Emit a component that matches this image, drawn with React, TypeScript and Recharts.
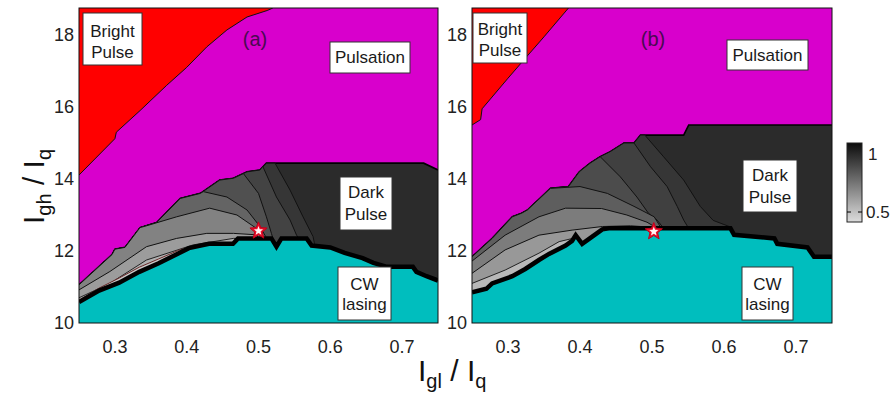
import React from 'react';
import { ComposedChart, Area, Scatter, XAxis, YAxis } from 'recharts';

type P = [number, number];

const X_DOMAIN: [number, number] = [0.25, 0.75];
const Y_DOMAIN: [number, number] = [10, 18.75];
const X_TICKS = [0.3, 0.4, 0.5, 0.6, 0.7];
const Y_TICKS = [10, 12, 14, 16, 18];
const Y_MIN = 10;
const Y_MAX = 18.75;

// ---------- panel (a) ----------
const redA: P[] = [
  [0.25, 14.11], [0.3, 15.12], [0.302, 15.3], [0.335, 15.9], [0.372, 16.6], [0.4, 17.1],
  [0.428, 17.67], [0.456, 18.14], [0.484, 18.5], [0.512, 18.68], [0.52, 18.75],
];
const topA: P[] = [
  [0.25, 11.06], [0.296, 11.9], [0.3, 12.05], [0.314, 12.1], [0.335, 12.65], [0.358, 12.79],
  [0.391, 13.46], [0.419, 13.6], [0.446, 13.97], [0.465, 14.02], [0.484, 14.2], [0.502, 14.25],
  [0.511, 14.44], [0.73, 14.44], [0.75, 14.25],
];
const cwA: P[] = [
  [0.25, 10.58], [0.278, 10.9], [0.306, 11.12], [0.334, 11.42], [0.361, 11.66], [0.389, 11.94],
  [0.403, 12.08], [0.431, 12.2], [0.4645, 12.2], [0.4715, 12.35], [0.518, 12.35], [0.525, 12.12],
  [0.532, 12.35], [0.567, 12.35], [0.574, 12.15], [0.6, 12.1], [0.62, 11.95], [0.645, 11.8],
  [0.66, 11.67], [0.679, 11.56], [0.715, 11.56], [0.72, 11.42], [0.734, 11.3], [0.75, 11.18],
];
const contoursA: { start: number; tail: P[] }[] = [
  { start: 0.523, tail: [[0.523, 14.44], [0.544, 13.69], [0.562, 12.95], [0.576, 12.4], [0.578, 12.2]] },
  { start: 0.506, tail: [[0.506, 14.35], [0.525, 13.5], [0.544, 12.86], [0.553, 12.44], [0.556, 12.35]] },
  { start: 0.479, tail: [[0.479, 14.15], [0.5, 13.6], [0.511, 12.95], [0.518, 12.49], [0.52, 12.35]] },
  { start: 0.423, tail: [[0.423, 13.65], [0.456, 13.5], [0.484, 13.14], [0.502, 12.68], [0.51, 12.4]] },
  { start: 0.344, tail: [[0.344, 12.7], [0.386, 12.95], [0.432, 13.19], [0.47, 13.0], [0.497, 12.63], [0.505, 12.38]] },
  { start: 0.25, tail: [[0.25, 10.92], [0.293, 11.43], [0.344, 12.12], [0.386, 12.35], [0.428, 12.49], [0.465, 12.49], [0.497, 12.45], [0.5, 12.35]] },
  { start: 0.25, tail: [[0.25, 10.7], [0.293, 11.1], [0.344, 11.75], [0.409, 12.17], [0.465, 12.35], [0.472, 12.35]] },
  { start: 0.25, tail: [[0.25, 10.63], [0.278, 10.97], [0.306, 11.25], [0.334, 11.55], [0.361, 11.78], [0.389, 12.02], [0.41, 12.14], [0.43, 12.22]] },
];
const bandColorsA = ['#363636', '#434343', '#505050', '#646464', '#828282', '#9c9c9c', '#b0b0b0', '#c8c8c8'];
const bandStrokesA = ['#111', '#111', '#111', '#111', '#111', '#111', '#222', '#6a2a2a'];
const starA = [{ x: 0.5, y: 12.56 }];

// ---------- panel (b) ----------
const redB: P[] = [
  [0.25, 15.5], [0.262, 15.65], [0.264, 15.95], [0.3, 16.8], [0.326, 17.4], [0.35, 17.95], [0.384, 18.75],
];
const topB: P[] = [
  [0.25, 11.84], [0.278, 12.35], [0.306, 12.95], [0.319, 13.05], [0.327, 13.14], [0.359, 13.74],
  [0.384, 13.79], [0.399, 14.2], [0.414, 14.44], [0.428, 14.62], [0.442, 14.76], [0.461, 15.0],
  [0.475, 15.0], [0.484, 15.22], [0.544, 15.22], [0.551, 15.5], [0.75, 15.5],
];
const cwB: P[] = [
  [0.25, 10.85], [0.27, 10.95], [0.278, 11.1], [0.306, 11.3], [0.324, 11.5], [0.343, 11.75],
  [0.357, 11.92], [0.38, 12.15], [0.389, 12.28], [0.394, 12.44], [0.403, 12.2], [0.417, 12.4],
  [0.431, 12.6], [0.44, 12.63], [0.609, 12.63], [0.614, 12.45], [0.67, 12.35], [0.674, 12.2],
  [0.716, 12.1], [0.725, 11.84], [0.75, 11.84],
];
const contoursB: { start: number; tail: P[] }[] = [
  { start: 0.49, tail: [[0.49, 15.22], [0.516, 14.62], [0.544, 13.97], [0.567, 13.24], [0.585, 12.85], [0.61, 12.66]] },
  { start: 0.475, tail: [[0.475, 15.0], [0.498, 14.34], [0.521, 13.79], [0.535, 13.24], [0.544, 12.86], [0.55, 12.66]] },
  { start: 0.428, tail: [[0.428, 14.62], [0.456, 14.06], [0.479, 13.5], [0.495, 13.05], [0.507, 12.86], [0.515, 12.66]] },
  { start: 0.359, tail: [[0.359, 13.74], [0.4, 13.79], [0.438, 13.6], [0.475, 13.24], [0.503, 12.95], [0.512, 12.66]] },
  { start: 0.25, tail: [[0.25, 11.72], [0.296, 12.44], [0.343, 12.95], [0.38, 13.19], [0.43, 13.18], [0.465, 13.0], [0.493, 12.8], [0.505, 12.66]] },
  { start: 0.25, tail: [[0.25, 11.38], [0.296, 12.03], [0.343, 12.44], [0.389, 12.58], [0.431, 12.68], [0.47, 12.7], [0.5, 12.66]] },
  { start: 0.25, tail: [[0.25, 11.1], [0.296, 11.47], [0.343, 11.94], [0.371, 12.26], [0.392, 12.36]] },
];
const bandColorsB = ['#363636', '#404040', '#4c4c4c', '#5e5e5e', '#7c7c7c', '#989898', '#b8b8b8'];
const bandStrokesB = ['#111', '#111', '#111', '#111', '#111', '#111', '#222'];
const starB = [{ x: 0.5025, y: 12.54 }];

const FULL_TOP: P[] = [[0.25, Y_MAX], [0.75, Y_MAX]];

const MAGENTA = '#d800cc';
const RED = '#ff0000';
const CYAN = '#00bebe';
const DARK = '#2b2b2b';
const FONT = '"Liberation Sans", Arial, Helvetica, sans-serif';

const toPts = (arr: P[]) => arr.map(([x, y]) => ({ x, y }));
const withTop = (top: P[], start: number, tail: P[]): P[] => [...top.filter((p) => p[0] < start), ...tail];

const Star = (props: any) => {
  const { cx, cy } = props;
  if (cx == null || cy == null) return null;
  const pts = (R: number, r: number) =>
    Array.from({ length: 10 }, (_, i) => {
      const a = -Math.PI / 2 + (i * Math.PI) / 5;
      const rad = i % 2 === 0 ? R : r;
      return `${cx + rad * Math.cos(a)},${cy + rad * Math.sin(a)}`;
    }).join(' ');
  return (
    <g>
      <polygon points={pts(9, 4)} fill="#e8102a" stroke="#c0001a" strokeWidth={1} />
      <polygon points={pts(4.8, 2.1)} fill="#fff4f4" />
    </g>
  );
};

const tickStyle = { fill: '#222', fontSize: 18, fontFamily: FONT };

interface PanelProps {
  left: number;
  width: number;
  margin: { top: number; right: number; bottom: number; left: number };
  red: P[];
  top: P[];
  cw: P[];
  contours: { start: number; tail: P[] }[];
  colors: string[];
  strokes: string[];
  star: { x: number; y: number }[];
}

function Panel({ left, width, margin, red, top, cw, contours, colors, strokes, star }: PanelProps) {
  const common = { dataKey: 'y', type: 'linear' as const, isAnimationActive: false, dot: false, activeDot: false, fillOpacity: 1 };
  return (
    <div style={{ position: 'absolute', left, top: 0 }}>
      <ComposedChart width={width} height={398} margin={margin}>
        <XAxis
          type="number"
          dataKey="x"
          domain={X_DOMAIN}
          ticks={X_TICKS}
          allowDataOverflow
          tickLine={false}
          tickSize={0}
          tickMargin={17}
          axisLine={false}
          height={30}
          tick={tickStyle}
        />
        <YAxis
          type="number"
          domain={Y_DOMAIN}
          ticks={Y_TICKS}
          allowDataOverflow
          tickLine={false}
          tickSize={0}
          tickMargin={5}
          axisLine={false}
          width={60}
          tick={tickStyle}
        />
        <Area {...common} data={toPts(FULL_TOP)} baseValue={Y_MIN} fill={MAGENTA} stroke="none" />
        <Area {...common} data={toPts(red)} baseValue={Y_MAX} fill={RED} stroke="#111" strokeWidth={1} />
        <Area {...common} data={toPts(top)} baseValue={Y_MIN} fill={DARK} stroke="#000" strokeWidth={1.6} />
        {contours.map((c, i) => (
          <Area
            key={i}
            {...common}
            data={toPts(withTop(top, c.start, c.tail))}
            baseValue={Y_MIN}
            fill={colors[i]}
            stroke={strokes[i]}
            strokeWidth={1}
          />
        ))}
        <Area {...common} data={toPts(cw)} baseValue={Y_MIN} fill={CYAN} stroke="#000" strokeWidth={4.5} />
        <Scatter data={star} dataKey="y" shape={Star} isAnimationActive={false} />
      </ComposedChart>
    </div>
  );
}

const boxText = { fontSize: 17, fontFamily: FONT, fill: '#1a1a1a', textAnchor: 'middle' as const };

function Box({ x, y, w, h, lines }: { x: number; y: number; w: number; h: number; lines: { t: string; by: number }[] }) {
  return (
    <g>
      <rect x={x} y={y} width={w} height={h} fill="#fff" stroke="#333" strokeWidth={1} />
      {lines.map((l, i) => (
        <text key={i} x={x + w / 2} y={l.by} {...boxText}>
          {l.t}
        </text>
      ))}
    </g>
  );
}

export default function App() {
  return (
    <div style={{ position: 'absolute', left: 0, top: 0, width: 891, height: 398, background: '#fff', overflow: 'hidden' }}>
      <Panel
        left={0}
        width={450}
        margin={{ top: 8, right: 12, bottom: 45, left: 19 }}
        red={redA}
        top={topA}
        cw={cwA}
        contours={contoursA}
        colors={bandColorsA}
        strokes={bandStrokesA}
        star={starA}
      />
      <Panel
        left={400}
        width={450}
        margin={{ top: 8, right: 18, bottom: 45, left: 12 }}
        red={redB}
        top={topB}
        cw={cwB}
        contours={contoursB}
        colors={bandColorsB}
        strokes={bandStrokesB}
        star={starB}
      />
      <svg width={891} height={398} style={{ position: 'absolute', left: 0, top: 0, pointerEvents: 'none' }}>
        <defs>
          <linearGradient id="cbar" x1="0" y1="0" x2="0" y2="1">
            <stop offset="0%" stopColor="#0c0c0c" />
            <stop offset="100%" stopColor="#dcdcdc" />
          </linearGradient>
        </defs>
        {/* frames */}
        <rect x={79} y={8} width={359} height={315} fill="none" stroke="#111" strokeWidth={1} />
        <rect x={472} y={8} width={360} height={315} fill="none" stroke="#111" strokeWidth={1} />

        {/* panel a annotations */}
        <Box x={83} y={13} w={59} h={52} lines={[{ t: 'Bright', by: 37 }, { t: 'Pulse', by: 58 }]} />
        <Box x={330} y={42} w={80} h={31} lines={[{ t: 'Pulsation', by: 63 }]} />
        <Box x={340} y={177} w={52} h={53} lines={[{ t: 'Dark', by: 198 }, { t: 'Pulse', by: 220 }]} />
        <Box x={338} y={267} w={53} h={53} lines={[{ t: 'CW', by: 290 }, { t: 'lasing', by: 310 }]} />
        <text x={255} y={46} fontSize={20} fontFamily={FONT} fill="#4a0a52" textAnchor="middle">(a)</text>

        {/* panel b annotations */}
        <Box x={473} y={13} w={54} h={50} lines={[{ t: 'Bright', by: 35 }, { t: 'Pulse', by: 56 }]} />
        <Box x={727} y={40} w={81} h={30} lines={[{ t: 'Pulsation', by: 61 }]} />
        <Box x={743} y={160} w={54} h={52} lines={[{ t: 'Dark', by: 181 }, { t: 'Pulse', by: 203 }]} />
        <Box x={742} y={267} w={51} h={53} lines={[{ t: 'CW', by: 290 }, { t: 'lasing', by: 310 }]} />
        <text x={653} y={46} fontSize={20} fontFamily={FONT} fill="#4a0a52" textAnchor="middle">(b)</text>

        {/* colorbar */}
        <rect x={847} y={143} width={15} height={79} fill="url(#cbar)" stroke="#222" strokeWidth={1} />
        <line x1={847} y1={212} x2={851} y2={212} stroke="#000" strokeWidth={1} />
        <line x1={858} y1={212} x2={862} y2={212} stroke="#000" strokeWidth={1} />
        <text x={868} y={160} fontSize={17} fontFamily={FONT} fill="#222">1</text>
        <text x={866} y={218} fontSize={17} fontFamily={FONT} fill="#222">0.5</text>

        {/* axis titles */}
        <text x={418} y={381} fontSize={30} fontFamily={FONT} fill="#111">
          I<tspan fontSize={20} dy={7}>gl</tspan>
          <tspan dy={-7}> / I</tspan>
          <tspan fontSize={20} dy={7}>q</tspan>
        </text>
        <text transform="translate(44,224) rotate(-90)" fontSize={30} fontFamily={FONT} fill="#111">
          I<tspan fontSize={20} dy={7}>gh</tspan>
          <tspan dy={-7}> / I</tspan>
          <tspan fontSize={20} dy={7}>q</tspan>
        </text>
      </svg>
    </div>
  );
}
